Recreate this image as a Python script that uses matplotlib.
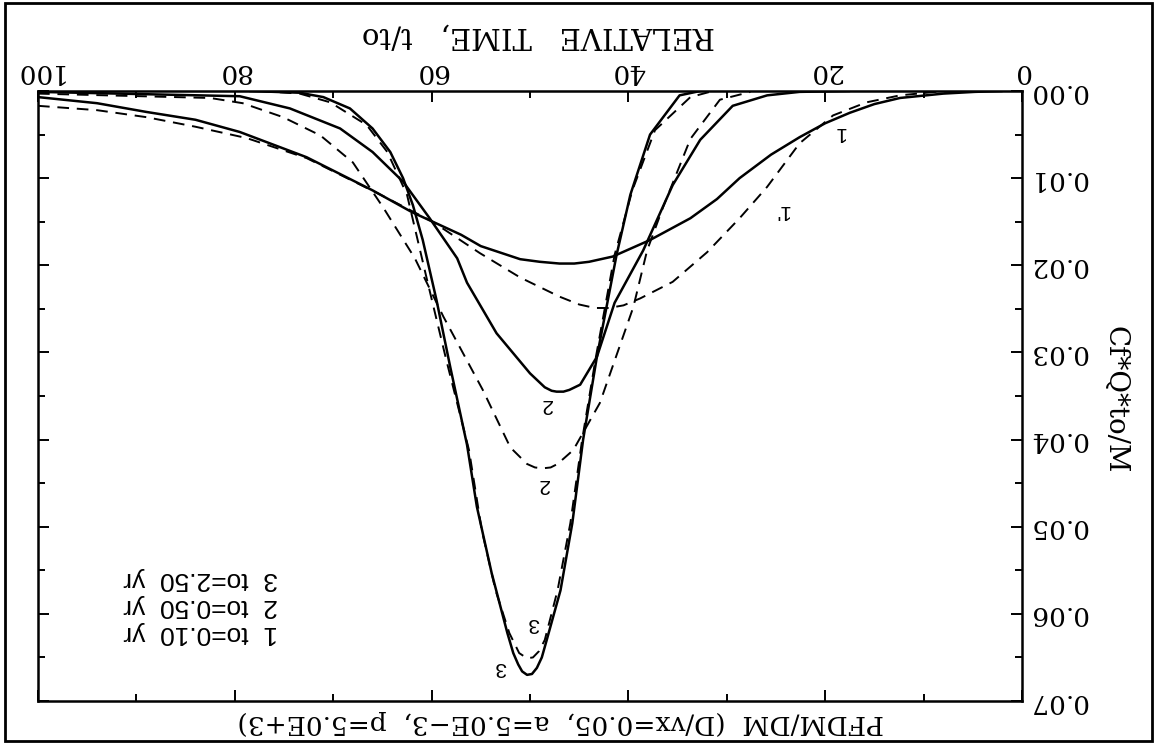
import matplotlib
matplotlib.use('Agg')
import matplotlib.pyplot as plt
from matplotlib.patches import Rectangle
from matplotlib.ticker import MultipleLocator, FormatStrFormatter

plt.rcParams['font.family'] = 'DejaVu Serif'

s1_t = [100, 94, 89, 84, 79.5, 72.7, 66, 62, 57, 55, 51, 49, 47, 45.5, 44, 41.6, 37.8, 33.7, 31, 28.7, 25.5, 22.6,
        20, 17.5, 15, 12.4, 8, 4.8, 2]
s1_c = [0.0007, 0.0014, 0.0024, 0.0033, 0.0047, 0.0076, 0.0114, 0.0139, 0.0165, 0.0178, 0.0193, 0.0196, 0.0198,
        0.0198, 0.0196, 0.0190, 0.0171, 0.0146, 0.0124, 0.0100, 0.0073, 0.0053, 0.0037, 0.0025, 0.0015, 0.0008,
        0.0003, 0.0001, 0.0]
d1_t = [100, 94, 89, 84, 78.8, 72.7, 69.3, 65.2, 59.9, 55.1, 51, 47, 45, 43.4, 42, 40.5, 38.8, 35.5, 32, 28.7, 25.9,
        22.6, 19.2, 15.8, 12.4, 8.8, 6.3]
d1_c = [0.0017, 0.0022, 0.0030, 0.0041, 0.0054, 0.0077, 0.0096, 0.0119, 0.0150, 0.0186, 0.0214, 0.0236, 0.0245,
        0.0249, 0.0249, 0.0246, 0.0238, 0.0219, 0.0185, 0.0146, 0.0110, 0.0060, 0.0028, 0.0013, 0.0005, 0.0001, 0.0]
s2_t = [100, 79.5, 74.4, 69.3, 66, 62.9, 60.2, 57.4, 56.4, 53.4, 50, 48.5, 47.8, 47.3, 46.6, 46, 44.9, 43.2, 41.4,
        38.5, 35.5, 32.7, 29.4, 25.9, 22.6, 17.5]
s2_c = [0.0001, 0.0006, 0.0020, 0.0043, 0.0070, 0.0104, 0.0146, 0.0192, 0.0220, 0.0278, 0.0324, 0.0340, 0.0344,
        0.0345, 0.0345, 0.0343, 0.0337, 0.0305, 0.0243, 0.0183, 0.0108, 0.0056, 0.0017, 0.0005, 0.0001, 0.0]
d2_t = [100, 82.5, 79.2, 75.1, 71.3, 68, 64.9, 61.7, 58.8, 54.8, 52, 50.3, 49.5, 48.7, 47.9, 47.2, 45.6, 42.9, 39.5,
        38.1, 36.5, 33.7, 30.7, 27.6]
d2_c = [0.0003, 0.0008, 0.0014, 0.0030, 0.0051, 0.0082, 0.0134, 0.0192, 0.0259, 0.0343, 0.0409, 0.0428, 0.0432,
        0.0433, 0.0432, 0.0428, 0.0412, 0.0358, 0.0248, 0.0183, 0.0134, 0.0055, 0.0010, 0.0001]
s3_t = [78.5, 73.4, 71, 68.3, 66, 64.2, 62.9, 61.9, 60.9, 59.5, 58.1, 56.4, 55.4, 53.9, 52.3, 51.7, 51.2, 50.8, 50.3,
        49.8, 49.3, 48.8, 48.3, 46.9, 45.7, 44.6, 43.2, 41.2, 39.8, 37.8, 34.8, 32.7]
s3_c = [0.0, 0.0002, 0.0007, 0.0020, 0.0043, 0.0070, 0.0100, 0.0131, 0.0171, 0.0240, 0.0317, 0.0406, 0.0477, 0.0553,
        0.0622, 0.0645, 0.0658, 0.0666, 0.0670, 0.0669, 0.0662, 0.0650, 0.0630, 0.0573, 0.0496, 0.0400, 0.0305,
        0.0188, 0.0119, 0.0050, 0.0005, 0.0]
d3_t = [77.4, 73.4, 70.3, 66.6, 64.5, 62.5, 60.5, 58.5, 56.2, 54.9, 53.5, 52.1, 51.1, 50.3, 49.7, 49.1, 48.5, 47.2,
        45.9, 44.7, 43.3, 41.4, 39.6, 37.3, 33.7, 31.4]
d3_c = [0.0, 0.0003, 0.0013, 0.0039, 0.0070, 0.0119, 0.0215, 0.0309, 0.0412, 0.0504, 0.0573, 0.0622, 0.0645, 0.0651,
        0.0650, 0.0643, 0.0630, 0.0573, 0.0496, 0.0400, 0.0305, 0.0188, 0.0114, 0.0045, 0.0007, 0.0]

legend_lines = ['1  to=0.10  yr', '2  to=0.50  yr', '3  to=2.50  yr']

W, H = 1156, 744
fig = plt.figure(figsize=(W / 100, H / 100), dpi=100)
ax = fig.add_axes([38 / W, 1 - 701 / H, (1022 - 38) / W, (701 - 91) / H])

for t, c in [(s1_t, s1_c), (s2_t, s2_c), (s3_t, s3_c)]:
    ax.plot(t, c, color='black', lw=1.8, solid_capstyle='round', solid_joinstyle='round')
for t, c in [(d1_t, d1_c), (d2_t, d2_c), (d3_t, d3_c)]:
    ax.plot(t, c, color='black', lw=1.4, ls=(0, (6, 4)))

# the whole scan is upside down: flip both axes, text turned 180 degrees
ax.set_xlim(100, 0)
ax.set_ylim(0.07, 0)
ax.xaxis.set_major_locator(MultipleLocator(20))
ax.xaxis.set_minor_locator(MultipleLocator(10))
ax.yaxis.set_major_locator(MultipleLocator(0.01))
ax.yaxis.set_minor_locator(MultipleLocator(0.005))
ax.xaxis.set_major_formatter(FormatStrFormatter('%d'))
ax.yaxis.set_major_formatter(FormatStrFormatter('%.2f'))
ax.tick_params(which='both', direction='in', top=True, bottom=True, left=True, right=True,
               labeltop=True, labelbottom=False, labelleft=False, labelright=True, width=1.4)
ax.tick_params(which='major', length=8)
ax.tick_params(which='minor', length=5)
ax.tick_params(axis='both', labelrotation=180, labelsize=19, pad=5)
for lbl in ax.get_yticklabels():
    lbl.set_verticalalignment('center')
for sp in ax.spines.values():
    sp.set_linewidth(1.8)

# curve numbers
lab_kw = dict(rotation=180, ha='center', va='center', fontsize=15, family='Liberation Sans')
ax.text(18.5, 0.0048, '1', **lab_kw)
ax.text(24.4, 0.0137, "1'", **lab_kw)
ax.text(48.3, 0.0360, '2', **lab_kw)
ax.text(48.7, 0.0452, '2', **lab_kw)
ax.text(49.7, 0.0611, '3', **lab_kw)
ax.text(53.0, 0.0661, '3', **lab_kw)

for i, s in enumerate(legend_lines):
    ax.text(83.5, 0.0622 - 0.0031 * i, s, rotation=180, ha='center', va='center',
            fontsize=19, family='Liberation Sans')

fig.text(538 / W, 1 - 35 / H, 'RELATIVE   TIME,   t/to', rotation=180, ha='center', va='center', fontsize=21)
fig.text(1115 / W, 1 - 400 / H, 'Cf*Q*to/M', rotation=270, ha='center', va='center', fontsize=20)
fig.text(561 / W, 1 - 722 / H, 'PFDM/DM  (D/vx=0.05,  a=5.0E\u22123,  p=5.0E+3)', rotation=180,
         ha='center', va='center', fontsize=19)

fig.add_artist(Rectangle((5 / W, 3 / H), (1152 - 5) / W, (741 - 3) / H, transform=fig.transFigure,
                         fill=False, lw=2, color='black'))

fig.savefig('out.png', dpi=100, facecolor='white')
